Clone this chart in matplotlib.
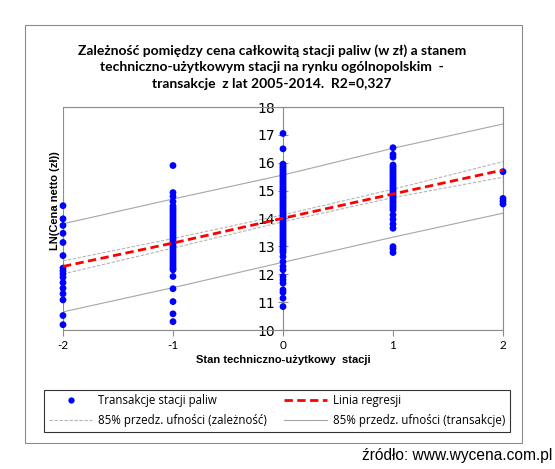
import matplotlib
matplotlib.use("Agg")
import matplotlib.pyplot as plt
from matplotlib.patches import Rectangle
from matplotlib.lines import Line2D

# ---- data ----
x_levels = [-2, -1, 0, 1, 2]
y_m2 = [14.46, 13.99, 13.75, 13.47, 13.14, 12.67, 12.22, 12.12, 12.01, 11.89,
        11.70, 11.50, 11.30, 11.08, 10.52, 10.19]
y_m1 = [15.90, 14.93, 14.79, 14.61, 14.45, 14.37, 14.30, 14.22, 14.14, 14.06,
        13.98, 13.90, 13.82, 13.74, 13.66, 13.58, 13.50, 13.42, 13.34, 13.26,
        13.18, 13.10, 13.02, 12.94, 12.86, 12.78, 12.70, 12.62, 12.54, 12.46,
        12.38, 12.30, 12.22, 12.16, 11.92, 11.48, 11.02, 10.58, 10.30]
y_0 = [17.05, 16.50, 15.95, 15.88, 15.82, 15.75, 15.68, 15.61, 15.55, 15.48,
       15.41, 15.34, 15.28, 15.21, 15.14, 15.07, 15.01, 14.94, 14.87, 14.80,
       14.74, 14.67, 14.60, 14.53, 14.47, 14.40, 14.33, 14.26, 14.20, 14.13,
       14.06, 13.99, 13.93, 13.86, 13.79, 13.72, 13.66, 13.59, 13.52, 13.45,
       13.39, 13.32, 13.25, 13.18, 13.12, 13.05, 12.98, 12.91, 12.85, 12.78,
       12.63, 12.45, 12.28, 12.16, 11.92, 11.80, 11.68, 11.44, 11.35, 11.14, 10.84]
y_p1 = [16.54, 16.30, 16.20, 15.92, 15.85, 15.78, 15.71, 15.64, 15.57, 15.50,
        15.43, 15.36, 15.29, 15.22, 15.15, 15.08, 15.01, 14.94, 14.87, 14.80,
        14.73, 14.66, 14.59, 14.52, 14.45, 14.38, 14.31, 14.13, 13.97, 13.80,
        13.65, 12.99, 12.91, 12.78]
y_p2 = [15.68, 14.72, 14.62, 14.52]

reg_y = [12.28, 13.12, 14.01, 14.88, 15.74]
conf_upper = [12.48, 13.28, 14.13, 15.05, 16.04]
conf_lower = [12.01, 12.94, 13.88, 14.75, 15.48]
pred_upper = [13.81, 14.70, 15.56, 16.52, 17.39]
pred_lower = [10.65, 11.52, 12.43, 13.33, 14.19]

x_ticks = [-2, -1, 0, 1, 2]
y_ticks = [10, 11, 12, 13, 14, 15, 16, 17, 18]

title = ("Zależność pomiędzy cena całkowitą stacji paliw (w zł) a stanem\n"
         "techniczno-użytkowym stacji na rynku ogólnopolskim  -\n"
         "transakcje  z lat 2005-2014.  R2=0,327")
xlabel = "Stan techniczno-użytkowy  stacji"
ylabel = "LN(Cena netto (zł))"
leg_labels = ["Transakcje stacji paliw", "Linia regresji",
              "85% przedz. ufności (zależność)", "85% przedz. ufności (transakcje)"]
source = "źródło: www.wycena.com.pl"

W, H = 555, 469
fig = plt.figure(figsize=(W / 100, H / 100), dpi=100)
fig.patch.set_facecolor("white")

# outer chart frame
fig.patches.append(Rectangle((25 / W, 1 - 443 / H), (522 - 25) / W, (443 - 25) / H,
                             transform=fig.transFigure, fill=False,
                             edgecolor="#8c8c8c", linewidth=0.8))

ax = fig.add_axes([63 / W, 1 - 330 / H, (503 - 63) / W, (330 - 107) / H])
frame_col = "#8c8c8c"

xs_all = ([-2] * len(y_m2) + [-1] * len(y_m1) + [0] * len(y_0)
          + [1] * len(y_p1) + [2] * len(y_p2))
ys_all = y_m2 + y_m1 + y_0 + y_p1 + y_p2

ax.plot(x_levels, pred_upper, color="#a6a6a6", lw=0.8, zorder=2)
ax.plot(x_levels, pred_lower, color="#a6a6a6", lw=0.8, zorder=2)
ax.plot(x_levels, conf_upper, color="#b4b4b4", lw=0.8, ls=(0, (3, 1.5)), zorder=2)
ax.plot(x_levels, conf_lower, color="#b4b4b4", lw=0.8, ls=(0, (3, 1.5)), zorder=2)
ax.scatter(xs_all, ys_all, s=24, color="#0000ff", edgecolors="none", zorder=3,
           clip_on=False)
ax.plot(x_levels, reg_y, color="#ff0000", lw=2.0, ls=(0, (3, 1.6)), zorder=4)

ax.set_xlim(-2, 2)
ax.set_ylim(10, 18)
ax.set_xticks(x_ticks)
ax.set_yticks(y_ticks)
ax.set_xticklabels([str(v) for v in x_ticks], fontsize=8.5, family="Lato")
ax.set_yticklabels([str(v) for v in y_ticks], fontsize=8.5, family="Lato")

for s in ["top", "right", "bottom"]:
    ax.spines[s].set_color(frame_col)
    ax.spines[s].set_linewidth(0.8)
ax.spines["left"].set_position(("data", 0))
ax.spines["left"].set_color(frame_col)
ax.spines["left"].set_linewidth(0.8)
ax.add_patch(Rectangle((0, 0), 1, 1, transform=ax.transAxes, fill=False,
                       edgecolor=frame_col, linewidth=0.8, zorder=1))
ax.tick_params(axis="y", direction="inout", length=7, width=0.8, color=frame_col,
               pad=2)
ax.tick_params(axis="x", direction="out", length=4, width=0.8, color=frame_col,
               pad=3)

fig.text(272 / W, 1 - 67 / H, title, ha="center", va="center", fontsize=10,
         fontweight="bold", family="Lato", linespacing=1.45)
fig.text(283 / W, 1 - 360 / H, xlabel, ha="center", va="center", fontsize=8,
         fontweight="bold", family="Liberation Sans")
fig.text(55 / W, 1 - 201 / H, ylabel, ha="center", va="center", fontsize=8,
         fontweight="bold", family="Liberation Sans", rotation=90)

handles = [
    Line2D([], [], marker="o", color="#0000ff", ls="none", markersize=4.5,
           markeredgewidth=0),
    Line2D([], [], color="#b4b4b4", lw=0.8, ls=(0, (3, 1.5))),
    Line2D([], [], color="#ff0000", lw=2.0, ls=(0, (3, 1.6))),
    Line2D([], [], color="#a6a6a6", lw=0.8),
]
labels = [leg_labels[0], leg_labels[2], leg_labels[1], leg_labels[3]]
leg = fig.legend(handles, labels, ncol=2, loc="lower left",
                 bbox_to_anchor=(44 / W, 1 - 432 / H, (510 - 44) / W, (432 - 383) / H),
                 mode="expand", prop={"family": "Open Sans", "size": 8.3},
                 frameon=True, fancybox=False, handlelength=3.8, handletextpad=0.5,
                 borderaxespad=0, labelspacing=0.6, borderpad=0.4,
                 columnspacing=2.0)
leg.get_frame().set_edgecolor("black")
leg.get_frame().set_linewidth(0.8)

fig.text(552 / W, 1 - 455 / H, source, ha="right", va="center", fontsize=11.2,
         family="Liberation Sans")

fig.savefig("out.png", dpi=100, facecolor="white")
